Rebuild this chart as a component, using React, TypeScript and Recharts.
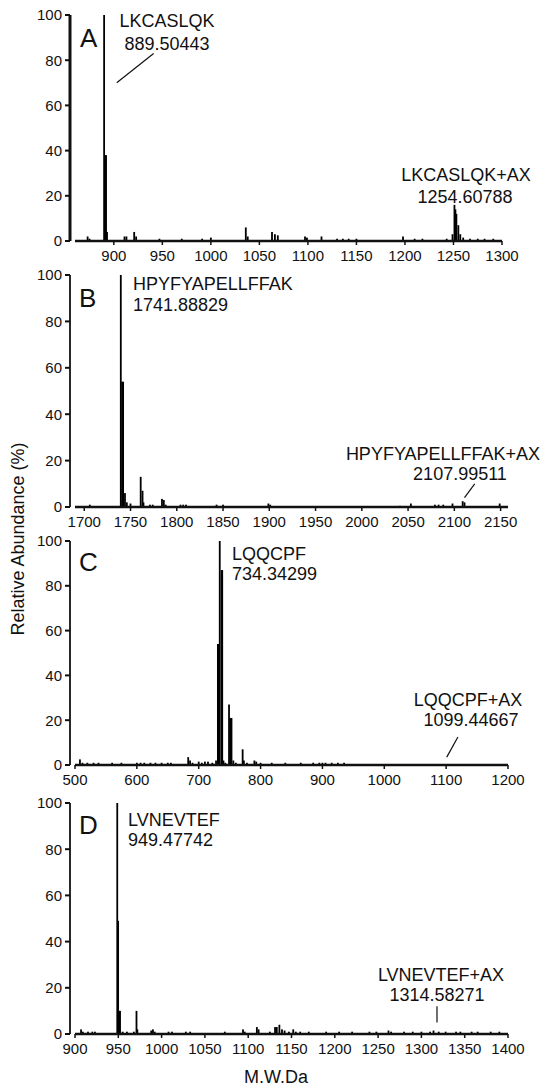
import { BarChart, Bar, XAxis, YAxis, ReferenceLine } from "recharts";

const FONT = "'Liberation Sans', Arial, Helvetica, sans-serif";
const INK = "#111";

// A: LKCASLQK
const mzA = [873, 875, 890, 891, 892, 893, 911, 913, 921, 923, 947, 970, 991, 1000, 1036, 1038, 1063, 1066, 1069, 1097, 1099, 1114, 1130, 1136, 1142, 1150, 1198, 1210, 1218, 1243, 1249, 1251, 1252, 1253, 1255, 1257, 1260, 1267, 1275, 1282, 1291];
const abA = [2, 1, 100, 38, 38, 4, 2, 2, 4, 2, 1, 1, 1, 1.5, 6, 2, 4, 3, 2.5, 2, 1.5, 2, 1, 1, 1, 1, 2, 1, 1, 1, 3, 16, 14, 12, 7, 3, 1.5, 1, 1, 1, 1];
const ticksA = [900, 950, 1000, 1050, 1100, 1150, 1200, 1250, 1300];

// B: HPYFYAPELLFFAK
const mzB = [1706, 1739.5, 1741, 1742, 1744, 1746, 1750, 1761, 1763, 1764, 1771, 1774, 1784, 1786, 1788, 1804, 1807, 1810, 1843, 1850, 1899, 1901, 2041, 2053, 2079, 2083, 2088, 2098, 2109, 2111, 2149];
const abB = [1, 100, 54, 54, 6, 2, 1.5, 13, 7, 2, 1, 1, 3.5, 3, 1, 1, 1, 1, 1, 1, 1.5, 1, 0.5, 1.5, 1, 1, 1, 1.5, 2.5, 2, 1.5];
const ticksB = [1700, 1750, 1800, 1850, 1900, 1950, 2000, 2050, 2100, 2150];

// C: LQQCPF
const mzC = [508, 512, 520, 530, 538, 560, 575, 600, 606, 612, 622, 630, 640, 650, 655, 683, 686, 690, 700, 705, 710, 715, 722, 728, 731, 732, 734, 737, 738, 740, 743, 749, 751, 753, 756, 760, 771, 773, 778, 790, 793, 800, 818, 840, 865, 885, 895, 900, 905, 915, 925, 935];
const abC = [2.5, 1, 1, 1, 1, 1, 1, 1, 1, 1, 1, 1, 1, 1, 1, 3.5, 2, 1, 1.5, 1, 1.5, 1.5, 1, 2, 54, 54, 100, 87, 87, 2, 1, 27, 21, 21, 2, 1, 7, 2, 1, 2, 1.5, 1, 1, 1, 1, 1, 1, 1, 1, 1, 1, 1];
const ticksC = [500, 600, 700, 800, 900, 1000, 1100, 1200];

// D: LVNEVTEF
const mzD = [907, 909, 915, 920, 923, 948.8, 949.8, 951, 952, 955, 960, 968, 971, 972, 988, 990, 992, 1008, 1012, 1028, 1033, 1073, 1094, 1096, 1110, 1112, 1125, 1131, 1133, 1136, 1139, 1142, 1147, 1152, 1155, 1160, 1170, 1190, 1205, 1220, 1240, 1248, 1262, 1265, 1280, 1290, 1300, 1310, 1314, 1320, 1328, 1340, 1345, 1358, 1365, 1380, 1390];
const abD = [2, 1, 1, 1, 1, 100, 49, 10, 10, 1, 1, 1, 10, 2, 1.5, 2, 1, 1, 1, 1, 1, 1, 2, 1, 3, 2, 1, 3, 3, 4, 2, 1.5, 1, 2, 1, 1, 1, 1, 1, 1, 1, 1, 1.5, 1, 1, 1, 1, 1, 1.5, 1, 1, 1, 1, 1, 1, 1, 1];
const ticksD = [900, 950, 1000, 1050, 1100, 1150, 1200, 1250, 1300, 1350, 1400];

const yTicks = [0, 20, 40, 60, 80, 100];

const rows = (mz: number[], ab: number[]) => mz.map((m, i) => ({ mz: m, ab: ab[i] }));

type Pt = { x: number; y: number };

// stick peak: fixed-width line centred on the bar slot recharts computes
const Stick = (p: any) => {
  if (p.height == null || p.height <= 0) return null;
  return <rect x={p.x + p.width / 2 - 0.9} y={p.y} width={1.8} height={p.height} fill="#000" />;
};

function Spectrum({ top, height, right, domain, ticks, data, leader, axisW }: {
  top: number; height: number; right: number; domain: [number, number]; ticks: number[];
  data: { mz: number; ab: number }[]; leader: [Pt, Pt]; axisW: number;
}) {
  return (
    <div style={{ position: "absolute", left: 0, top }}>
      <BarChart width={546} height={height} data={data} margin={{ top: 10, right, bottom: 0, left: 0 }}>
        <XAxis
          type="number"
          dataKey="mz"
          domain={domain}
          ticks={ticks}
          interval={0}
          allowDataOverflow
          padding={{ left: 5, right: 0 }}
          axisLine={false}
          tickSize={4}
          tickMargin={5}
          tickLine={{ stroke: INK, strokeWidth: 1.5 }}
          tick={{ fill: INK, fontSize: 15, fontFamily: FONT }}
          height={30}
        />
        <YAxis
          domain={[0, 100]}
          ticks={yTicks}
          interval={0}
          width={70}
          axisLine={{ stroke: INK, strokeWidth: axisW }}
          tickSize={5}
          tickMargin={3}
          tickLine={{ stroke: INK, strokeWidth: 2 }}
          tick={{ fill: INK, fontSize: 15, fontFamily: FONT }}
        />
        <ReferenceLine segment={[{ x: domain[0], y: 0 }, { x: domain[1], y: 0 }]} stroke={INK} strokeWidth={2.5} />
        <ReferenceLine segment={leader} stroke={INK} strokeWidth={1.2} />
        <Bar dataKey="ab" fill="#000" shape={Stick} isAnimationActive={false} />
      </BarChart>
    </div>
  );
}

const txt = { fontFamily: FONT, fontSize: 18, fill: INK };
const letter = { fontFamily: FONT, fontSize: 26, fill: INK };

export default function App() {
  return (
    <div style={{ position: "absolute", left: 0, top: 0, width: 546, height: 1087, background: "#fff" }}>
      <Spectrum top={5} height={266} right={44} domain={[860, 1300]} ticks={ticksA} data={rows(mzA, abA)}
        leader={[{ x: 903, y: 70 }, { x: 941, y: 83 }]} axisW={3} />
      <Spectrum top={265} height={272} right={38} domain={[1690, 2158]} ticks={ticksB} data={rows(mzB, abB)}
        leader={[{ x: 2111, y: 4 }, { x: 2122, y: 10 }]} axisW={1.8} />
      <Spectrum top={531} height={264} right={38} domain={[500, 1200]} ticks={ticksC} data={rows(mzC, abC)}
        leader={[{ x: 1101, y: 3.5 }, { x: 1119, y: 12.5 }]} axisW={1.8} />
      <Spectrum top={793} height={271} right={38} domain={[900, 1400]} ticks={ticksD} data={rows(mzD, abD)}
        leader={[{ x: 1318, y: 5 }, { x: 1318, y: 12 }]} axisW={1.8} />
      <svg width={546} height={1087} style={{ position: "absolute", left: 0, top: 0, pointerEvents: "none" }}>
        <text x={80} y={47} {...letter}>A</text>
        <text x={79} y={307} {...letter}>B</text>
        <text x={79} y={571} {...letter}>C</text>
        <text x={79} y={834} {...letter}>D</text>

        <text x={167} y={27} textAnchor="middle" {...txt}>LKCASLQK</text>
        <text x={167} y={50} textAnchor="middle" {...txt}>889.50443</text>
        <text x={466} y={181} textAnchor="middle" {...txt}>LKCASLQK+AX</text>
        <text x={465} y={203} textAnchor="middle" {...txt}>1254.60788</text>

        <text x={133} y={290} {...txt}>HPYFYAPELLFFAK</text>
        <text x={133} y={311} {...txt}>1741.88829</text>
        <text x={443} y={460} textAnchor="middle" {...txt}>HPYFYAPELLFFAK+AX</text>
        <text x={460} y={480} textAnchor="middle" {...txt}>2107.99511</text>

        <text x={232} y={560} {...txt}>LQQCPF</text>
        <text x={232} y={580} {...txt}>734.34299</text>
        <text x={468} y={706} textAnchor="middle" {...txt}>LQQCPF+AX</text>
        <text x={471} y={726} textAnchor="middle" {...txt}>1099.44667</text>

        <text x={128} y={826} {...txt}>LVNEVTEF</text>
        <text x={128} y={846} {...txt}>949.47742</text>
        <text x={441} y={981} textAnchor="middle" {...txt}>LVNEVTEF+AX</text>
        <text x={437} y={1001} textAnchor="middle" {...txt}>1314.58271</text>

        <text x={18} y={539} transform="rotate(-90 18 539)" textAnchor="middle" dominantBaseline="central" {...txt}>
          Relative Abundance (%)
        </text>
        <text x={276} y={1083} textAnchor="middle" {...txt}>M.W.Da</text>
      </svg>
    </div>
  );
}
